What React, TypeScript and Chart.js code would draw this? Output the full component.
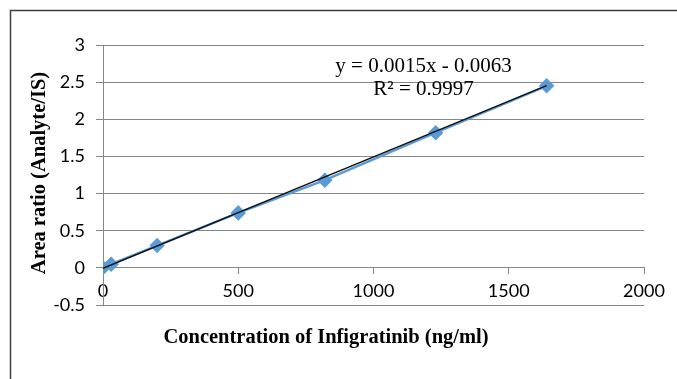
import React, { useEffect, useRef } from "react";
import { Chart, registerables } from "chart.js";

Chart.register(...registerables);

const concentrations = [0, 30, 200, 500, 820, 1230, 1640];
const areaRatios = [0, 0.05, 0.3, 0.74, 1.18, 1.82, 2.45];
const trendSlope = 0.0015;
const trendIntercept = -0.0063;
const equationLines = ["y = 0.0015x - 0.0063", "R² = 0.9997"];
const xTitle = "Concentration of Infigratinib (ng/ml)";
const yTitle = "Area ratio (Analyte/IS)";

const W = 677;
const H = 379;

export default function App() {
  const ref = useRef<HTMLCanvasElement | null>(null);
  useEffect(() => {
    const canvas = ref.current!;
    const xs = [concentrations[0], concentrations[concentrations.length - 1]];
    const trend = xs.map((x) => ({ x, y: trendSlope * x + trendIntercept }));
    const decor = {
      id: "decor",
      beforeDraw(chart: any) {
        const ctx = chart.ctx;
        ctx.save();
        ctx.fillStyle = "#ffffff";
        ctx.fillRect(0, 0, W, H);
        ctx.strokeStyle = "#404040";
        ctx.lineWidth = 1.5;
        ctx.beginPath();
        ctx.moveTo(10.5, H + 5);
        ctx.lineTo(10.5, 10.5);
        ctx.lineTo(W + 5, 10.5);
        ctx.stroke();
        ctx.restore();
      },
      afterDraw(chart: any) {
        const ctx = chart.ctx;
        const xs = chart.scales.x;
        const ys = chart.scales.y;
        ctx.save();
        ctx.fillStyle = "#000";
        ctx.textAlign = "center";
        ctx.textBaseline = "middle";
        ctx.font = "21px 'Liberation Serif'";
        ctx.fillText(equationLines[0], xs.getPixelForValue(1185), ys.getPixelForValue(2.71));
        ctx.fillText(equationLines[1], xs.getPixelForValue(1185), ys.getPixelForValue(2.4));
        ctx.font = "bold 20.5px 'Liberation Serif'";
        ctx.fillText(xTitle, 326, 338);
        ctx.translate(40, 173);
        ctx.rotate(-Math.PI / 2);
        ctx.fillText(yTitle, 0, 0);
        ctx.restore();
      },
    };
    const chart = new Chart(canvas, {
      type: "scatter",
      data: {
        datasets: [
          {
            label: "trend",
            data: trend,
            showLine: true,
            borderColor: "#111111",
            borderWidth: 1.3,
            pointRadius: 0,
            order: 0,
          },
          {
            label: "data",
            data: concentrations.map((x, i) => ({ x, y: areaRatios[i] })),
            showLine: true,
            borderColor: "#5B9BD5",
            borderWidth: 2.5,
            backgroundColor: "#5B9BD5",
            pointBackgroundColor: "#5B9BD5",
            pointBorderColor: "#5B9BD5",
            pointStyle: "rectRot",
            pointRadius: 6,
            order: 1,
          },
        ],
      },
      plugins: [decor],
      options: {
        responsive: false,
        animation: false,
        layout: { padding: { left: 0, top: 45, right: 33, bottom: 74 } },
        plugins: { legend: { display: false }, tooltip: { enabled: false } },
        scales: {
          x: {
            type: "linear",
            position: { y: 0 },
            min: 0,
            max: 2000,
            ticks: {
              stepSize: 500,
              color: "#000",
              font: { family: "Lato", size: 18 },
              padding: 7,
              maxRotation: 0,
              callback: (v: any) => String(v),
            },
            grid: {
              drawOnChartArea: false,
              drawTicks: true,
              tickLength: 6,
              color: "#868686",
            },
            border: { color: "#868686", width: 1 },
          },
          y: {
            type: "linear",
            min: -0.5,
            max: 3,
            afterFit: (s: any) => {
              s.width = 103;
            },
            ticks: {
              stepSize: 0.5,
              color: "#000",
              font: { family: "Lato", size: 18 },
              padding: 11,
              callback: (v: any) => String(v),
            },
            grid: {
              color: "#868686",
              tickLength: 7,
            },
            border: { color: "#868686", width: 1 },
          },
        },
      },
    });
    return () => chart.destroy();
  }, []);
  return (
    <div style={{ position: "fixed", left: 0, top: 0, width: W, height: H }}>
      <canvas ref={ref} width={W} height={H} style={{ display: "block" }} />
    </div>
  );
}
